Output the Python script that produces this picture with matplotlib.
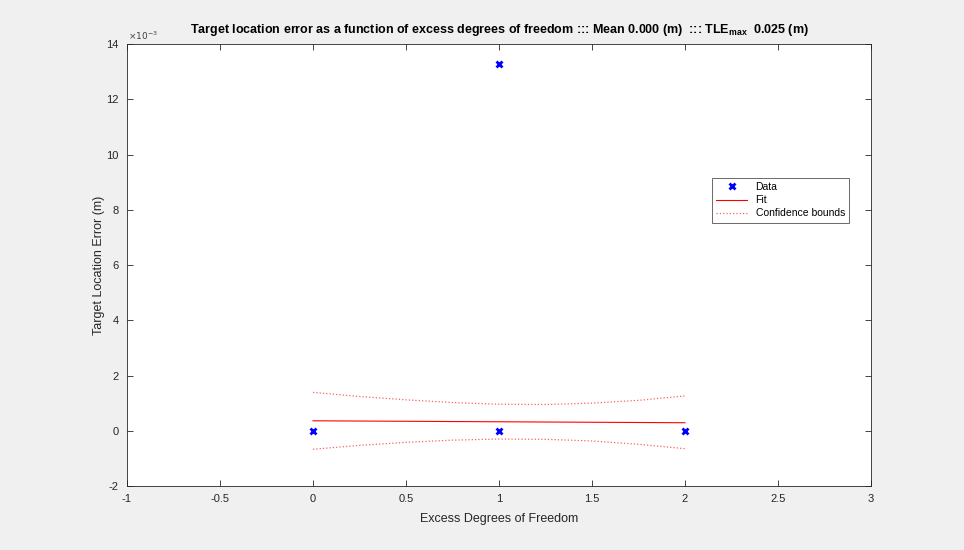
import matplotlib.pyplot as plt
from matplotlib.ticker import FuncFormatter, MultipleLocator

plt.rcParams['font.family'] = ['Liberation Sans', 'DejaVu Sans']

# measured points (m)
data_x = [0, 1, 1, 2]
data_y = [0.0, 0.01328, 0.0, 0.0]

# linear fit
fit_x = [0, 2]
fit_y = [0.00036, 0.00029]

# confidence bounds (m)
ci_x = [0, 0.25, 0.5, 0.75, 1, 1.25, 1.5, 1.75, 2]
ci_upper = [0.00139, 0.00124, 0.00112, 0.00102, 0.00096, 0.00095, 0.00100, 0.00110, 0.00126]
ci_lower = [-0.00067, -0.00053, -0.00042, -0.00034, -0.00030, -0.00031, -0.00037, -0.00049, -0.00065]

fig = plt.figure(figsize=(9.64, 5.5), dpi=100, facecolor='#f0f0f0')
ax = fig.add_axes([127 / 964, 1 - 486 / 550, 744 / 964, 442 / 550])
ax.set_facecolor('white')

ax.plot(data_x, data_y, 'x', color='blue', markersize=5, markeredgewidth=2, label='Data')
ax.plot(fit_x, fit_y, '-', color='red', linewidth=0.8, label='Fit')
ax.plot(ci_x, ci_upper, ':', color='#ff6060', linewidth=0.9, label='Confidence bounds')
ax.plot(ci_x, ci_lower, ':', color='#ff6060', linewidth=0.9)

ax.set_xlim(-1, 3)
ax.set_ylim(-0.002, 0.014)
ax.xaxis.set_major_locator(MultipleLocator(0.5))
ax.yaxis.set_major_locator(MultipleLocator(0.002))
ax.xaxis.set_major_formatter(FuncFormatter(lambda v, p: f"{v:g}"))
ax.yaxis.set_major_formatter(FuncFormatter(lambda v, p: f"{round(v * 1000):g}"))

ax.tick_params(direction='in', top=True, right=True, length=4, width=0.6,
               colors='#262626', labelsize=8, pad=6)
for s in ax.spines.values():
    s.set_color('#262626')
    s.set_linewidth(0.6)

ax.text(0.002, 1.004, r'$\times10^{-3}$', transform=ax.transAxes, fontsize=6.5,
        color='#404040', ha='left', va='bottom')

ax.set_title(r"Target location error as a function of excess degrees of freedom ::: Mean 0.000 (m)  ::: TLE$_{\mathregular{max}}$  0.025 (m)",
             fontsize=9, fontweight='bold', pad=8)
ax.set_xlabel('Excess Degrees of Freedom', fontsize=9, color='#262626', labelpad=6)
ax.set_ylabel('Target Location Error (m)', fontsize=9, color='#262626', labelpad=1)

leg = ax.legend(loc='upper left', bbox_to_anchor=(0.786, 0.697), borderaxespad=0,
                fontsize=7.5, frameon=True, fancybox=False, edgecolor='#262626',
                handlelength=3, borderpad=0.4, labelspacing=0.3)
leg.get_frame().set_linewidth(0.6)

fig.savefig('out.png', dpi=100, facecolor=fig.get_facecolor())
